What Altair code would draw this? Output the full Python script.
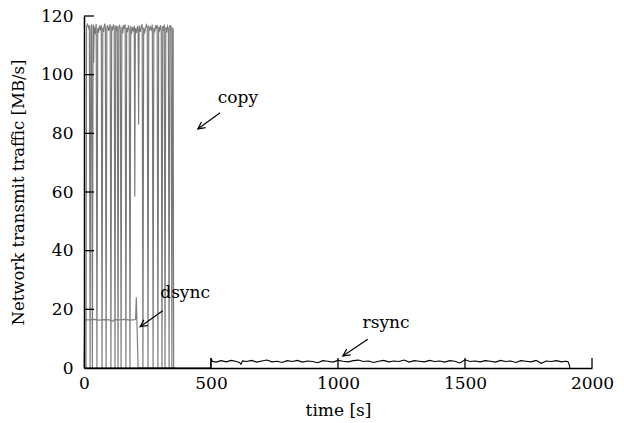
import math
import altair as alt
import pandas as pd

# ---------------- data ----------------
copy_time = [0, 8, 10, 14, 18, 21, 24, 27, 29, 30, 33, 36, 37, 38, 40, 44, 47, 48, 51, 54,
             57, 61, 65, 68, 71, 74, 77, 80, 82, 84, 87, 90, 93, 97, 101, 103, 106, 109, 112, 116,
             119, 122, 125, 128, 131, 134, 137, 140, 143, 146, 149, 152, 156, 160, 162, 165, 168, 171, 175, 178,
             181, 184, 187, 191, 195, 198, 200, 202, 206, 210, 213, 215, 217, 221, 225, 229, 232, 235, 238, 242,
             246, 249, 252, 255, 258, 262, 266, 269, 272, 275, 278, 282, 286, 288, 291, 294, 297, 301, 304, 307,
             310, 313, 316, 319, 322, 325, 329, 332, 335, 338, 341, 343, 346, 349, 351, 353, 360]
copy_mbps = [0, 0, 116.5, 117.2, 116.0, 116.8, 0, 115.5, 116.9, 117.1, 0, 116.2, 117.0, 104.0, 116.4, 113.8, 116.6, 117.3, 0, 115.9,
             114.2, 116.7, 115.1, 117.0, 0, 116.1, 114.6, 116.9, 117.4, 116.0, 0, 115.8, 116.9, 114.9, 116.3, 117.2, 0, 116.5, 115.0, 117.1,
             116.2, 0, 116.8, 114.7, 116.6, 0, 115.7, 117.0, 115.3, 0, 116.4, 114.1, 116.9, 115.6, 117.1, 0, 116.0, 114.5, 116.8, 115.4,
             0, 116.6, 113.9, 116.2, 114.8, 116.7, 58.5, 115.9, 114.2, 116.5, 115.1, 83.0, 116.8, 114.6, 116.3, 117.2, 0, 116.1, 114.0, 115.8,
             117.0, 116.4, 0, 116.7, 114.9, 116.2, 115.3, 117.1, 0, 116.0, 114.4, 116.8, 115.6, 117.0, 0, 116.3, 114.7, 116.9, 115.2, 0,
             116.6, 115.0, 117.1, 0, 116.2, 114.3, 116.5, 115.8, 0, 116.9, 115.1, 116.7, 0, 116.0, 115.4, 0, 0]

dsync_time = [0, 3, 20, 40, 60, 80, 100, 113, 120, 140, 160, 180, 200, 203, 206, 213, 360]
dsync_mbps = [0, 16.5, 16.4, 16.6, 16.3, 16.5, 16.4, 15.9, 16.5, 16.4, 16.6, 16.3, 16.5, 16.6, 24.1, 0, 0]

rsync_time = [0, 499, 500, 505, 520, 540, 560, 580, 600, 612, 618, 624,
              640, 660, 680, 700, 720, 740, 760, 780, 800, 820, 840, 860, 880,
              900, 920, 940, 960, 980, 1000, 1020, 1040, 1060, 1080,
              1100, 1120, 1140, 1160, 1180, 1200, 1220, 1240, 1260, 1280,
              1300, 1320, 1340, 1360, 1380, 1400, 1420, 1440, 1460, 1480,
              1500, 1520, 1540, 1560, 1580, 1600, 1620, 1640, 1660, 1680,
              1700, 1720, 1740, 1760, 1780, 1800, 1820, 1840, 1860, 1880,
              1895, 1905, 1910, 1913]
rsync_mbps = [0, 0, 3.3, 2.3, 2.0, 2.5, 2.1, 2.6, 2.2, 1.9, 1.3, 2.4,
              2.2, 2.6, 2.0, 2.4, 2.7, 2.1, 2.3, 1.9, 2.5, 2.2, 2.6, 2.0, 2.4,
              2.2, 1.8, 2.5, 2.3, 2.0, 2.6, 2.3, 2.1, 2.5, 2.7,
              2.2, 2.4, 1.9, 2.3, 2.6, 2.1, 2.4, 2.2, 2.7, 2.0,
              2.5, 2.3, 2.1, 2.6, 2.2, 2.4, 2.0, 2.5, 2.3, 1.7,
              2.8, 2.2, 2.4, 2.1, 2.5, 2.3, 2.0, 2.6, 2.2, 2.4,
              1.9, 2.5, 2.3, 2.1, 2.6, 1.6, 2.4, 2.2, 2.5, 2.1,
              2.3, 2.2, 1.2, 0]

x_ticks = [0, 500, 1000, 1500, 2000]
y_ticks = [0, 20, 40, 60, 80, 100, 120]

labels = ["copy", "dsync", "rsync"]
label_t = [606, 398, 1189]
label_v = [90.3, 23.9, 13.5]
arrow_t0 = [536, 310, 1117]
arrow_v0 = [87.0, 19.5, 9.8]
arrow_t1 = [448, 221, 1019]
arrow_v1 = [81.5, 14.1, 4.1]

# ---------------- chart ----------------
W, H = 508, 352
FONT = "DejaVu Serif"
FS = 17
XMAX, YMAX = 2000, 120

xs = alt.Scale(domain=[0, XMAX], nice=False, zero=False)
ys = alt.Scale(domain=[0, YMAX], nice=False, zero=False)
x_axis = alt.Axis(values=x_ticks, format="d", title="time [s]", ticks=False, grid=False,
                  domainColor="black", domainWidth=1.5, labelPadding=7,
                  titlePadding=11, zindex=1, labelFlush=False)
y_axis = alt.Axis(values=y_ticks, format="d", title="Network transmit traffic [MB/s]", ticks=False, grid=False,
                  domainColor="black", domainWidth=1.5, labelPadding=11,
                  titlePadding=14, titleFontSize=16.5, zindex=1)

def X(f):
    return alt.X(f, type="quantitative", scale=xs, axis=x_axis)

def Y(f):
    return alt.Y(f, type="quantitative", scale=ys, axis=y_axis)

copy_df = pd.DataFrame({"t": copy_time, "v": copy_mbps, "i": list(range(len(copy_time)))})
dsync_df = pd.DataFrame({"t": dsync_time, "v": dsync_mbps})
rsync_df = pd.DataFrame({"t": rsync_time, "v": rsync_mbps})

copy_line = alt.Chart(copy_df).mark_line(color="#787878", strokeWidth=1.15).encode(
    x=X("t"), y=Y("v"), order="i:Q")
dsync_line = alt.Chart(dsync_df).mark_line(color="#808080", strokeWidth=1.2).encode(
    x=X("t"), y=Y("v"), order="t:Q")
rsync_line = alt.Chart(rsync_df).mark_line(color="black", strokeWidth=1.1).encode(
    x=X("t"), y=Y("v"), order="t:Q")

xt_df = pd.DataFrame({"t": x_ticks[1:]})
yt_df = pd.DataFrame({"v": y_ticks[1:]})
x_tick_marks = alt.Chart(xt_df).mark_rule(color="black", strokeWidth=1.3).encode(
    x=X("t"), y=alt.value(H), y2=alt.value(H - 10))
y_tick_marks = alt.Chart(yt_df).mark_rule(color="black", strokeWidth=1.3).encode(
    y=Y("v"), x=alt.value(0), x2=alt.value(10))

lab_df = pd.DataFrame({"txt": labels, "t": label_t, "v": label_v})
texts = alt.Chart(lab_df).mark_text(font=FONT, fontSize=FS, align="center",
                                    baseline="alphabetic", color="black").encode(
    x=X("t"), y=Y("v"), text="txt:N")

angles = []
for a, b, c, d in zip(arrow_t0, arrow_v0, arrow_t1, arrow_v1):
    dx = (c - a) * W / XMAX
    dy = -(d - b) * H / YMAX
    angles.append(math.degrees(math.atan2(dx, -dy)) % 360)
arr_df = pd.DataFrame({"t0": arrow_t0, "v0": arrow_v0, "t1": arrow_t1,
                       "v1": arrow_v1, "ang": angles})
shafts = alt.Chart(arr_df).mark_rule(color="black", strokeWidth=1.2).encode(
    x=X("t0"), y=Y("v0"), x2="t1:Q", y2="v1:Q")
heads = alt.Chart(arr_df).mark_point(shape="M -0.5 1 L 0 0 L 0.5 1", size=200,
                                     filled=False, color="black", strokeWidth=1.2,
                                     opacity=1).encode(
    x=X("t1"), y=Y("v1"), angle=alt.Angle("ang:Q", scale=None))

chart = alt.layer(copy_line, dsync_line, rsync_line, x_tick_marks, y_tick_marks,
                  shafts, heads, texts).properties(
    width=W, height=H,
    autosize=alt.AutoSizeParams(type="none"),
    padding={"left": 84, "top": 16, "right": 624 - 84 - W, "bottom": 423 - 16 - H},
    background="white",
).configure_view(stroke=None).configure_axis(
    labelFont=FONT, labelFontSize=FS, labelColor="black",
    titleFont=FONT, titleFontSize=FS, titleFontWeight="normal", titleColor="black",
)

chart.save("out.html", embed_options={"renderer": "svg", "actions": False})
